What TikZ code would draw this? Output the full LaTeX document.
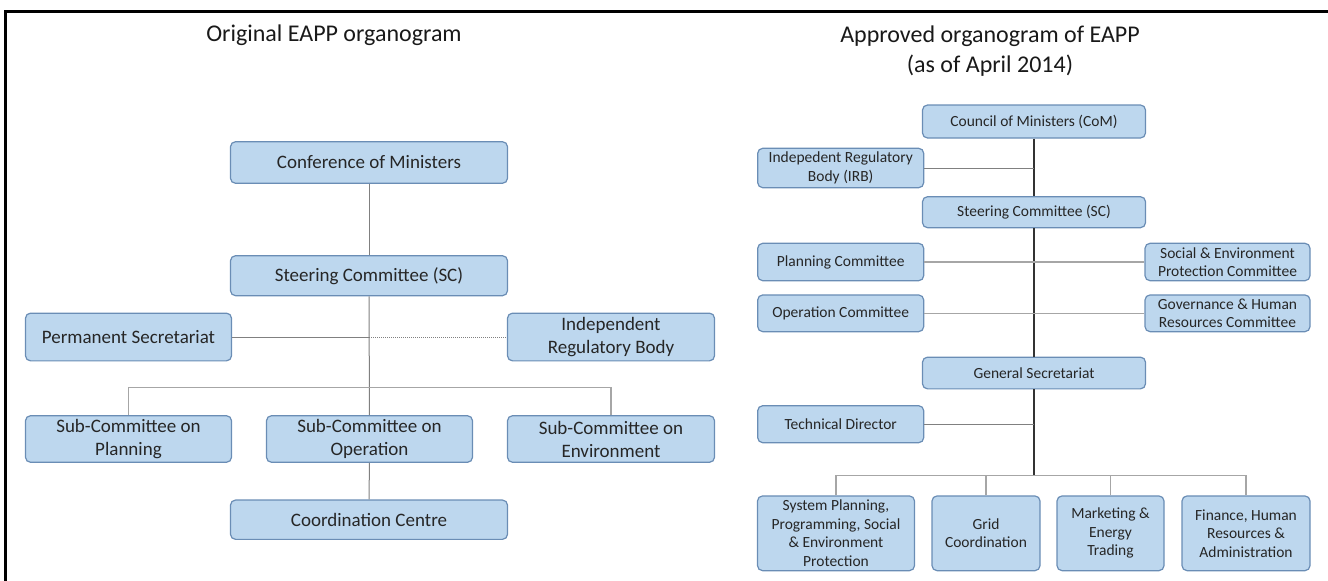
\documentclass[tikz,border=0pt]{standalone}
\usepackage{fontspec}
\setmainfont{Carlito}
\usepackage{xcolor}
\usepackage{tikz}
\usetikzlibrary{positioning}
\definecolor{boxfill}{HTML}{BDD7EE}
\definecolor{boxline}{HTML}{6A8DB5}
\definecolor{txt}{HTML}{262626}
\tikzset{>=stealth}
\tikzset{
  org/.style={draw=boxline, fill=boxfill, line width=1.2pt, rounded corners=5pt,
    align=center, text=txt, inner sep=2pt},
  big/.style={org, font=\fontsize{19}{23}\selectfont},
  small/.style={org, font=\fontsize{15.5}{18.5}\selectfont},
  ttl/.style={align=center, text=black!90, font=\fontsize{24}{30}\selectfont},
  lnk/.style={draw=black!50, line width=1pt},
  lnkl/.style={draw=black!35, line width=1.4pt},
  lnkd/.style={draw=black!80, line width=1.1pt}
}

\begin{document}
\begin{tikzpicture}[x=1pt,y=-1pt]
    \useasboundingbox (0,0) rectangle (1328,581);
    \draw[line width=3pt] (1328,11) -- (5,11) -- (5,581);

    % original organogram
    \node[ttl] (t1) at (334,35) {Original EAPP organogram};
    \node[big, minimum width=277pt, minimum height=41.6pt] (com) at (369,162.5) {Conference of Ministers};
    \node[big, minimum width=277pt, minimum height=40pt] (sc) at (369,275.7) {Steering Committee (SC)};
    \node[big, minimum width=206pt, minimum height=47.7pt] (ps) at (128.5,337) {Permanent Secretariat};
    \node[big, minimum width=207pt, minimum height=47.7pt] (irb) at (611,337) {Independent\\Regulatory Body};
    \node[big, minimum width=206pt, minimum height=46.6pt] (scp) at (128.5,439) {Sub-Committee on\\Planning};
    \node[big, minimum width=206pt, minimum height=46.6pt] (sco) at (369.5,439) {Sub-Committee on\\Operation};
    \node[big, minimum width=207pt, minimum height=46.6pt] (sce) at (611,439) {Sub-Committee on\\Environment};
    \node[big, minimum width=277pt, minimum height=39.3pt] (cc) at (369,519.7) {Coordination Centre};
    \coordinate (bus1) at (369,387.7);

    \draw[lnk] (com) -- (sc);
    \draw[lnk] (sc) -- (sco);
    \draw[lnk] (sco) -- (cc);
    \draw[lnk] (ps.east) -- (sc |- ps);
    \draw[lnk, densely dotted] (sc |- ps) -- (irb.west);
    \draw[lnkl] (scp.north) |- (bus1) -| (sce.north);

    % approved organogram
    \node[ttl] (t2) at (990,51) {Approved organogram of EAPP\\(as of April 2014)};
    \node[small, minimum width=223pt, minimum height=33pt] (rcom) at (1034,121.5) {Council of Ministers (CoM)};
    \node[small, minimum width=166pt, minimum height=39.4pt] (rirb) at (840.7,168) {Indepedent Regulatory\\Body (IRB)};
    \node[small, minimum width=223pt, minimum height=31pt] (rsc) at (1034,212.2) {Steering Committee (SC)};
    \node[small, minimum width=166pt, minimum height=37.4pt] (pc) at (840.7,262) {Planning Committee};
    \node[small, minimum width=165pt, minimum height=37.4pt] (sep) at (1227.5,262) {Social \& Environment\\Protection Committee};
    \node[small, minimum width=166pt, minimum height=36.7pt] (oc) at (840.7,313.3) {Operation Committee};
    \node[small, minimum width=165pt, minimum height=36.7pt] (ghr) at (1227.5,313.3) {Governance \& Human\\Resources Committee};
    \node[small, minimum width=223pt, minimum height=31.7pt] (gs) at (1034,373) {General Secretariat};
    \node[small, minimum width=166pt, minimum height=37pt] (td) at (840.7,424.2) {Technical Director};
    \node[small, minimum width=157pt, minimum height=74.7pt] (b1) at (836,533.3) {System Planning,\\Programming, Social\\\& Environment\\Protection};
    \node[small, minimum width=108pt, minimum height=74.7pt] (b2) at (986,533.3) {Grid\\Coordination};
    \node[small, minimum width=107pt, minimum height=74.7pt] (b3) at (1110.5,533.3) {Marketing \&\\Energy\\Trading};
    \node[small, minimum width=128pt, minimum height=74.7pt] (b4) at (1246,533.3) {Finance, Human\\Resources \&\\Administration};
    \coordinate (bus2) at (1034,475.7);

    \draw[lnkd] (rcom) -- (rsc);
    \draw[lnkd] (rsc) -- (gs);
    \draw[lnkd] (gs) -- (bus2);
    \draw[lnk] (rirb.east) -- (rcom |- rirb);
    \draw[lnkl] (pc.east) -- (sep.west);
    \draw[lnkl] (oc.east) -- (ghr.west);
    \draw[lnk] (td.east) -- (gs |- td);
    \draw[lnkl] (b1.north) |- (bus2) -| (b4.north);
    \draw[lnkl] (b2.north) -- (b2 |- bus2);
    \draw[lnkl] (b3.north) -- (b3 |- bus2);
\end{tikzpicture}
\end{document}
